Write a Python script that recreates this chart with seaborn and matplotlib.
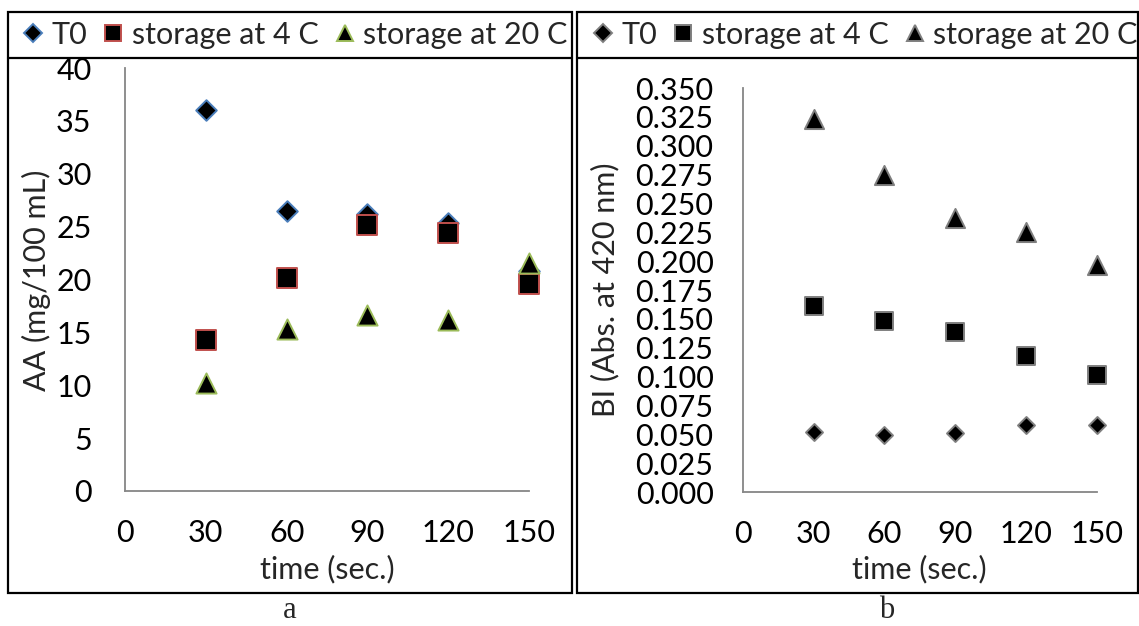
import numpy as np
import matplotlib
matplotlib.use("Agg")
import matplotlib.pyplot as plt
import seaborn as sns
from matplotlib.lines import Line2D
from matplotlib.patches import Rectangle

# values
time = [30, 60, 90, 120, 150]
aa_t0 = [36.0, 26.5, 26.2, 25.3, 20.8]
aa_4c = [14.3, 20.1, 25.2, 24.4, 19.6]
aa_20c = [10.2, 15.3, 16.6, 16.2, 21.6]
bi_t0 = [0.052, 0.049, 0.051, 0.058, 0.058]
bi_4c = [0.161, 0.148, 0.139, 0.118, 0.101]
bi_20c = [0.323, 0.275, 0.237, 0.225, 0.197]
series_names = ["T0", "storage at 4 C", "storage at 20 C"]

sns.set_style("white")
plt.rcParams['font.family'] = ['Lato', 'DejaVu Sans']

W, H = 1139, 626
FS = 22
fig = plt.figure(figsize=(W / 100, H / 100), dpi=100)

def px_axes(x0, x1, y_bot, y_top):
    return fig.add_axes([x0 / W, 1 - y_bot / H, (x1 - x0) / W, (y_bot - y_top) / H])

ax1 = px_axes(125, 529, 491, 68)
ax2 = px_axes(742.7, 1097, 492, 88)

markers = ["D", "s", "^"]
sizes_a = [110, 190, 210]
sizes_b = [75, 160, 190]
edges_a = ["#4a7ebb", "#c0504d", "#9bbb59"]
edges_b = ["#7f7f7f", "#7f7f7f", "#7f7f7f"]

for vals, m, s, ec in zip([aa_t0, aa_4c, aa_20c], markers, sizes_a, edges_a):
    sns.scatterplot(x=time, y=vals, marker=m, s=s, color="black", edgecolor=ec,
                    linewidth=1.4, ax=ax1, clip_on=False, zorder=3)
for vals, m, s, ec in zip([bi_t0, bi_4c, bi_20c], markers, sizes_b, edges_b):
    sns.scatterplot(x=time, y=vals, marker=m, s=s, color="black", edgecolor=ec,
                    linewidth=1.4, ax=ax2, clip_on=False, zorder=3)

for ax in (ax1, ax2):
    ax.set_xlim(0, 150)
    ax.set_xticks(np.arange(0, 151, 30))
    for side in ("top", "right"):
        ax.spines[side].set_visible(False)
    for side in ("left", "bottom"):
        ax.spines[side].set_color("#868686")
        ax.spines[side].set_linewidth(1.3)
    ax.tick_params(axis="both", direction="out", length=7, width=1.3, color="#868686",
                   labelsize=FS, labelcolor="black")
    ax.tick_params(axis="x", pad=13)
    ax.set_facecolor("white")

ax1.set_ylim(0, 40)
ax1.set_yticks(np.arange(0, 41, 5))
ax1.tick_params(axis="y", pad=17)
ax2.set_ylim(0, 0.35)
ax2.set_yticks(np.arange(0, 0.3501, 0.025))
ax2.set_yticklabels(["%.3f" % v for v in np.arange(0, 0.3501, 0.025)])
ax2.tick_params(axis="y", pad=14)

def ftext(x, y, s, **kw):
    fig.text(x / W, 1 - y / H, s, **kw)

ftext(36, 280, "AA (mg/100 mL)", rotation=90, ha="center", va="center", fontsize=FS)
ftext(605, 290, "BI (Abs. at 420 nm)", rotation=90, ha="center", va="center", fontsize=FS)
ftext(327, 569, "time (sec.)", ha="center", va="center", fontsize=FS)
ftext(919, 569, "time (sec.)", ha="center", va="center", fontsize=FS)
ftext(290, 611, "a", ha="center", va="center", fontsize=22, family="Liberation Serif")
ftext(887, 611, "b", ha="center", va="center", fontsize=22, family="Liberation Serif")

# panel frames and legend strips
for (x0, x1) in [(8, 572), (577, 1138)]:
    fig.add_artist(Rectangle((x0 / W, 1 - 593 / H), (x1 - x0) / W, (593 - 12) / H,
                             transform=fig.transFigure, fill=False, ec="black", lw=1.6))
    fig.add_artist(Line2D([x0 / W, x1 / W], [1 - 58 / H, 1 - 58 / H],
                          transform=fig.transFigure, color="black", lw=1.6))

def legend_handles(edges, ms):
    return [Line2D([], [], ls="none", marker=m, markersize=k, markerfacecolor="black",
                   markeredgecolor=ec, markeredgewidth=1.4)
            for m, ec, k in zip(markers, edges, ms)]

for handles, cx in [(legend_handles(edges_a, [9, 12, 12]), 295),
                    (legend_handles(edges_b, [9, 12, 12]), 865)]:
    fig.legend(handles, series_names, loc="center", bbox_to_anchor=(cx / W, 1 - 35 / H),
               ncol=3, frameon=False, fontsize=FS, handlelength=0.7, handletextpad=0.25,
               columnspacing=0.5, borderpad=0, borderaxespad=0)

fig.savefig("out.png", dpi=100)
